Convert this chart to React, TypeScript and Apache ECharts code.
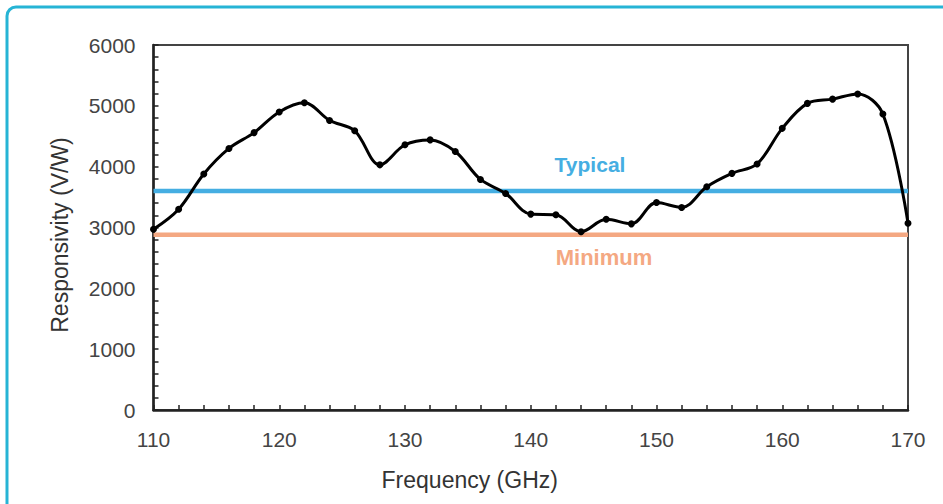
import React, { useEffect, useRef } from "react";
import * as echarts from "echarts";

const FREQUENCIES = [110, 112, 114, 116, 118, 120, 122, 124, 126, 128, 130, 132, 134, 136, 138, 140, 142, 144, 146, 148, 150, 152, 154, 156, 158, 160, 162, 164, 166, 168, 170];
const RESPONSIVITY = [2970, 3300, 3880, 4300, 4560, 4900, 5050, 4760, 4590, 4030, 4360, 4440, 4250, 3790, 3560, 3220, 3210, 2930, 3135, 3060, 3410, 3330, 3670, 3890, 4045, 4630, 5040, 5110, 5195, 4865, 3070];
const TYPICAL = 3600;
const MINIMUM = 2880;
const X_RANGE = [110, 170];
const Y_RANGE = [0, 6000];

export default function App() {
  const ref = useRef<HTMLDivElement>(null);
  useEffect(() => {
    if (!ref.current) return;
    const chart = echarts.init(ref.current, null, { renderer: "svg" });
    const data = FREQUENCIES.map((f, i) => [f, RESPONSIVITY[i]]);
    chart.setOption({
      animation: false,
      backgroundColor: "#ffffff",
      grid: {
        left: 153.5,
        right: 35,
        top: 45,
        bottom: 94,
        show: true,
        borderColor: "#444",
        borderWidth: 2,
        backgroundColor: "transparent",
      },
      xAxis: {
        type: "value",
        min: X_RANGE[0],
        max: X_RANGE[1],
        interval: 10,
        name: "Frequency (GHz)",
        nameLocation: "middle",
        nameGap: 58,
        nameTextStyle: {
          fontFamily: "Liberation Sans",
          fontSize: 23,
          color: "#333",
          padding: [0, 122, 0, 0],
        },
        axisLine: { show: true, lineStyle: { color: "#222", width: 2.5 } },
        axisTick: { show: true, inside: true, length: 5, lineStyle: { color: "#222", width: 1.5 } },
        minorTick: { show: true, splitNumber: 5, length: 5, lineStyle: { color: "#222", width: 1.5 } },
        splitLine: { show: false },
        axisLabel: {
          margin: 19,
          fontFamily: "Liberation Sans Narrow, Liberation Sans",
          fontSize: 21,
          color: "#444",
          formatter: (v: number) => String(v),
        },
      },
      yAxis: {
        type: "value",
        min: Y_RANGE[0],
        max: Y_RANGE[1],
        interval: 1000,
        name: "Responsivity (V/W)",
        nameLocation: "middle",
        nameGap: 82,
        nameTextStyle: {
          fontFamily: "Liberation Sans",
          fontSize: 23,
          color: "#333",
          padding: [0, 15, 0, 0],
        },
        axisLine: { show: true, lineStyle: { color: "#222", width: 2.5 } },
        axisTick: { show: true, inside: true, length: 5, lineStyle: { color: "#222", width: 1.5 } },
        minorTick: { show: true, splitNumber: 5, length: 5, lineStyle: { color: "#222", width: 1.5 } },
        splitLine: { show: false },
        axisLabel: {
          margin: 18,
          fontFamily: "Liberation Sans",
          fontSize: 21,
          color: "#444",
          formatter: (v: number) => String(v),
        },
      },
      series: [
        {
          name: "Typical",
          type: "line",
          data: [[X_RANGE[0], TYPICAL], [X_RANGE[1], TYPICAL]],
          symbol: "none",
          lineStyle: { color: "#45AEE2", width: 4.5 },
          z: 1,
        },
        {
          name: "Minimum",
          type: "line",
          data: [[X_RANGE[0], MINIMUM], [X_RANGE[1], MINIMUM]],
          symbol: "none",
          lineStyle: { color: "#F4A882", width: 4.5 },
          z: 1,
        },
        {
          name: "Responsivity",
          type: "line",
          data,
          smooth: 0.35,
          symbol: "circle",
          symbolSize: 7,
          itemStyle: { color: "#000" },
          lineStyle: { color: "#000", width: 3 },
          z: 3,
        },
      ],
      graphic: [
        {
          type: "rect",
          shape: { x: 7, y: 7, width: 1000, height: 600, r: 9 },
          style: { fill: "none", stroke: "#26B4D5", lineWidth: 3 },
          silent: true,
        },
        {
          type: "text",
          x: 590,
          y: 164,
          style: {
            text: "Typical",
            fill: "#45AEE2",
            font: "bold 21px 'Liberation Sans'",
            align: "center",
            verticalAlign: "middle",
          },
        },
        {
          type: "text",
          x: 604,
          y: 257,
          style: {
            text: "Minimum",
            fill: "#F4A882",
            font: "bold 22px 'Liberation Sans'",
            align: "center",
            verticalAlign: "middle",
          },
        },
      ],
    });
    return () => chart.dispose();
  }, []);
  return (
    <div
      ref={ref}
      style={{ position: "absolute", left: 0, top: 0, width: 943, height: 504 }}
    />
  );
}
